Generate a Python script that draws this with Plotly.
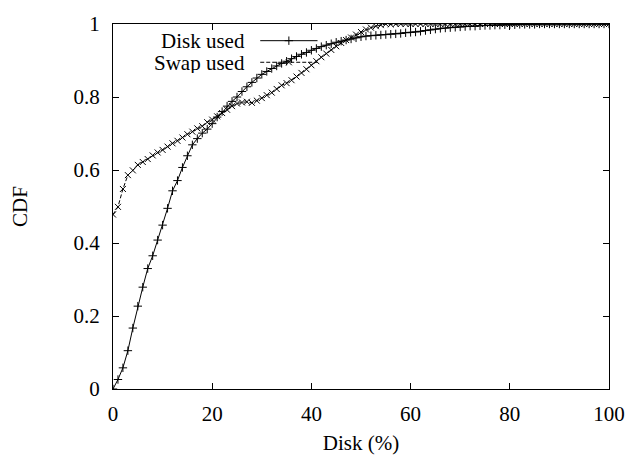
import plotly.graph_objects as go

disk_pct = list(range(0, 101))

disk_cdf = [
    0.000, 0.026, 0.058, 0.105, 0.167, 0.227, 0.279, 0.330, 0.365, 0.408,
    0.449, 0.495, 0.543, 0.571, 0.607, 0.639, 0.669, 0.686, 0.701, 0.712,
    0.727, 0.745, 0.760, 0.775, 0.788, 0.800, 0.815, 0.828, 0.840, 0.852,
    0.862, 0.870, 0.878, 0.885, 0.892, 0.898, 0.905, 0.911, 0.917, 0.922,
    0.928, 0.933, 0.938, 0.942, 0.946, 0.950, 0.953, 0.956, 0.959, 0.962,
    0.965, 0.967, 0.968, 0.969, 0.970, 0.971, 0.972, 0.973, 0.974, 0.976,
    0.977, 0.978, 0.980, 0.982, 0.984, 0.986, 0.988, 0.989, 0.990, 0.991,
    0.992, 0.993, 0.994, 0.994, 0.995, 0.996, 0.996, 0.997, 0.997, 0.998,
    0.998, 0.998, 0.999, 0.999, 0.999, 0.999, 1.000, 1.000, 1.000, 1.000,
    1.000, 1.000, 1.000, 1.000, 1.000, 1.000, 1.000, 1.000, 1.000, 1.000,
    1.000,
]

swap_cdf = [
    0.478, 0.499, 0.548, 0.586, 0.599, 0.614, 0.622, 0.630, 0.640, 0.648,
    0.655, 0.664, 0.673, 0.680, 0.689, 0.698, 0.705, 0.714, 0.720, 0.731,
    0.738, 0.747, 0.756, 0.765, 0.775, 0.782, 0.785, 0.787, 0.784, 0.790,
    0.797, 0.805, 0.812, 0.822, 0.832, 0.838, 0.846, 0.856, 0.866, 0.876,
    0.887, 0.898, 0.909, 0.919, 0.929, 0.939, 0.948, 0.956, 0.963, 0.971,
    0.978, 0.985, 0.990, 0.994, 0.997, 1.000, 0.999, 1.000, 1.000, 1.000,
    1.000, 1.000, 1.000, 1.000, 1.000, 1.000, 1.000, 1.000, 1.000, 1.000,
    1.000, 1.000, 1.000, 1.000, 1.000, 1.000, 1.000, 1.000, 1.000, 1.000,
    1.000, 1.000, 1.000, 1.000, 1.000, 1.000, 1.000, 1.000, 1.000, 1.000,
    1.000, 1.000, 1.000, 1.000, 1.000, 1.000, 1.000, 1.000, 1.000, 1.000,
    1.000,
]

series_names = ["Disk used", "Swap used"]
x_ticks = [0, 20, 40, 60, 80, 100]
y_ticks = [0, 0.2, 0.4, 0.6, 0.8, 1]
y_tick_labels = ["0", "0.2", "0.4", "0.6", "0.8", "1"]

FONT = "Liberation Serif"
L, R, T, B = 113, 22, 21, 70
W, H = 637, 463
pw, ph = W - L - R, H - T - B

fig = go.Figure()
fig.add_trace(go.Scatter(
    x=disk_pct, y=disk_cdf, mode="lines+markers", name=series_names[0],
    line=dict(color="black", width=1),
    marker=dict(symbol="cross-thin", size=6, line=dict(color="black", width=1)),
    showlegend=False,
))
fig.add_trace(go.Scatter(
    x=disk_pct, y=swap_cdf, mode="lines+markers", name=series_names[1],
    line=dict(color="black", width=1, dash="4px,2px"),
    marker=dict(symbol="x-thin", size=6, line=dict(color="black", width=1)),
    showlegend=False,
))

# custom gnuplot-style key (text left, sample right), on an overlay axis in paper units
def px_x(p):
    return (p - L) / pw

def px_y(p):
    return (H - B - p) / ph

key_rows = [(38, "solid", "cross-thin"), (60, "4px,2px", "x-thin")]
for (ky, dash, sym), name in zip(key_rows, series_names):
    fig.add_trace(go.Scatter(
        x=[px_x(262), px_x(291), px_x(320)], y=[px_y(ky)] * 3,
        mode="lines", xaxis="x2", yaxis="y2", showlegend=False, hoverinfo="skip",
        line=dict(color="black", width=1, dash=dash),
    ))
    fig.add_trace(go.Scatter(
        x=[px_x(291)], y=[px_y(ky)],
        mode="markers", xaxis="x2", yaxis="y2", showlegend=False, hoverinfo="skip",
        marker=dict(symbol=sym, size=6, line=dict(color="black", width=1)),
    ))
    fig.add_annotation(
        x=px_x(248), y=px_y(ky), xref="paper", yref="paper",
        text=name, showarrow=False, xanchor="right", yanchor="middle",
        height=21, valign="middle", borderpad=0,
        font=dict(family=FONT, size=21, color="black"),
    )

axis_common = dict(
    showline=True, linecolor="black", linewidth=1, mirror="ticks",
    ticks="inside", ticklen=6, tickwidth=1, tickcolor="black",
    showgrid=False, zeroline=False,
    tickfont=dict(family=FONT, size=21, color="black"),
)

fig.update_layout(
    width=W, height=H,
    margin=dict(l=L, r=R, t=T, b=B, pad=0),
    paper_bgcolor="white", plot_bgcolor="white",
    font=dict(family=FONT, size=21, color="black"),
    xaxis=dict(
        range=[0, 100], tickvals=x_ticks, ticklabelstandoff=6,
        title=dict(text="Disk (%)", font=dict(family=FONT, size=21), standoff=10),
        **axis_common,
    ),
    yaxis=dict(
        range=[0, 1], tickvals=y_ticks, ticktext=y_tick_labels, ticklabelstandoff=8,
        title=dict(text="CDF", font=dict(family=FONT, size=21), standoff=40),
        **axis_common,
    ),
    xaxis2=dict(overlaying="x", range=[0, 1], visible=False, fixedrange=True),
    yaxis2=dict(overlaying="y", range=[0, 1], visible=False, fixedrange=True),
)

fig.write_html("out.html")
